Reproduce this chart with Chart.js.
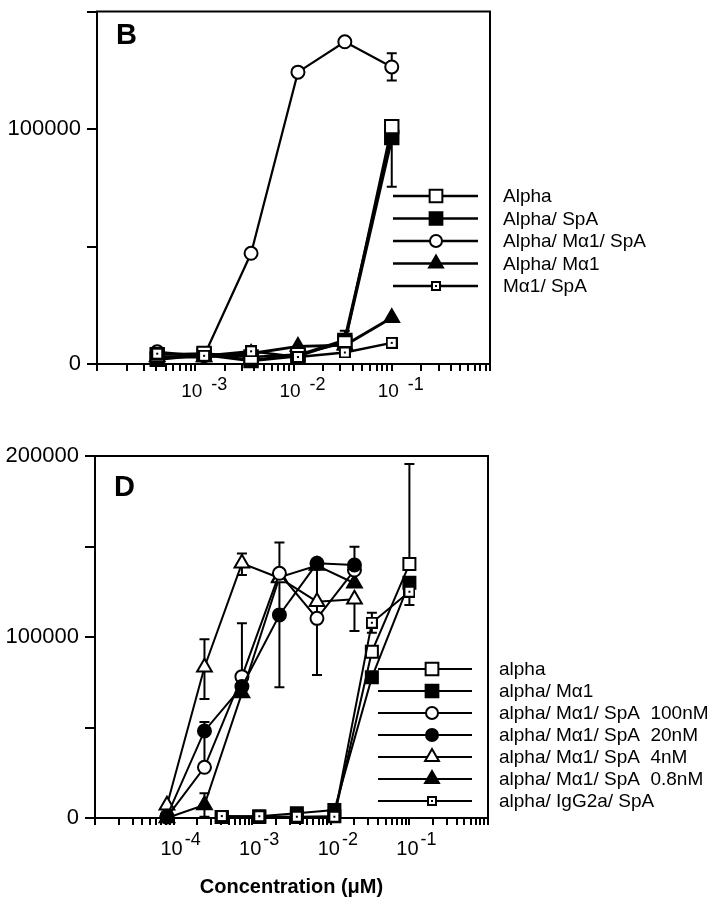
<!DOCTYPE html>
<html><head><meta charset="utf-8">
<script src="https://cdn.jsdelivr.net/npm/chart.js@4.4.1/dist/chart.umd.min.js"></script>
<style>
html,body{margin:0;padding:0;background:#fff;}
#wrap{position:relative;width:716px;height:899px;overflow:hidden;background:#fff;}
#cB{position:absolute;left:0;top:0;width:716px;height:440px;}
#cD{position:absolute;left:0;top:440px;width:716px;height:459px;}
</style></head><body>
<div id="wrap"><canvas id="cB" width="716" height="440"></canvas><canvas id="cD" width="716" height="459"></canvas></div>
<script>
// ---------- DATA ----------
// Panel B
const concB = [0.00041, 0.00123, 0.0037, 0.0111, 0.0333, 0.1];
const bLabels = ['Alpha', 'Alpha/ SpA', 'Alpha/ Mα1/ SpA', 'Alpha/ Mα1', 'Mα1/ SpA'];
const bAlpha      = [4000, 4500, 3000, 4000, 9000, 101000];
const bAlphaSpA   = [2000, 4000, 1500, 3500, 10000, 96400];
const bAlphaSpAErrUp   = [0, 0, 0, 0, 4200, 0];
const bAlphaSpAErrDown = [0, 0, 0, 0, 0, 21000];
const bAlphaMa1SpA = [5200, 3500, 47100, 124200, 137100, 126400];
const bAlphaMa1SpAErr = [0, 0, 0, 0, 0, 5800];
const bAlphaMa1   = [3000, 3000, 4500, 7500, 8000, 19700];
const bMa1SpA     = [4400, 3500, 5400, 3000, 4900, 9000];
const bYTickLabels = [0, 100000];
const bXTickExps = [-3, -2, -1];

// Panel D
const concD    = [0.00041, 0.00123, 0.0037, 0.0111, 0.0333, 0.1];
const concDSpA = [0.0000823, 0.000247, 0.00074, 0.00222, 0.00667, 0.02];
const dLabels = ['alpha', 'alpha/ Mα1', 'alpha/ Mα1/ SpA  100nM', 'alpha/ Mα1/ SpA  20nM',
                 'alpha/ Mα1/ SpA  4nM', 'alpha/ Mα1/ SpA  0.8nM', 'alpha/ IgG2a/ SpA'];
const dAlpha      = [500, 500, 500, 1000, 91900, 140300];
const dAlphaErrUp = [0, 0, 0, 0, 0, 55300];
const dAlphaMa1   = [500, 1000, 2600, 4400, 77700, 130000];
const d100        = [500, 28000, 78100, 135200, 110300, 137000];
const d100ErrUp   = [0, 20000, 29500, 0, 31300, 0];
const d100ErrDown = [0, 0, 0, 0, 31300, 0];
const d20         = [1000, 48100, 72600, 112200, 140700, 139800];
const d20ErrUp    = [0, 5000, 0, 40000, 0, 10000];
const d20ErrDown  = [0, 0, 0, 40000, 0, 0];
const d4          = [7000, 83300, 140700, 132600, 119500, 120800];
const d4ErrUp     = [0, 15400, 5500, 0, 0, 0];
const d4ErrDown   = [0, 17600, 6500, 0, 0, 17500];
const d08         = [0, 7200, 69000, 133000, 139500, 129700];
const d08Err      = [0, 6500, 0, 0, 0, 0];
const dIgG        = [1100, 1000, 700, 700, 107900, 125000];
const dIgGErr     = [0, 0, 0, 0, 5500, 7300];
const dYTickLabels = [0, 100000, 200000];
const dXTickExps = [-4, -3, -2, -1];

// ---------- HELPERS ----------
const FONT = "'Liberation Sans', Arial, Helvetica, sans-serif";

function makeDotSquare(size, bw) {
  const c = document.createElement('canvas');
  c.width = size; c.height = size;
  const g = c.getContext('2d');
  g.fillStyle = '#000'; g.fillRect(0, 0, size, size);
  g.fillStyle = '#fff'; g.fillRect(bw, bw, size - 2 * bw, size - 2 * bw);
  const d = 2;
  g.fillStyle = '#000'; g.fillRect((size - d) / 2, (size - d) / 2, d, d);
  return c;
}
const dotSqB = makeDotSquare(12, 2);
const dotSqD = makeDotSquare(12, 2);
const dotSqLeg = makeDotSquare(10, 2);

function decadeTicks(min, max) {
  const out = [];
  const e0 = Math.round(Math.log10(min)), e1 = Math.round(Math.log10(max));
  for (let e = e0; e < e1; e++) {
    for (let m = 1; m <= 9; m++) out.push(+(m * Math.pow(10, e)).toPrecision(6));
  }
  out.push(max);
  return out;
}

function series(label, xs, ys, mk, extra) {
  return Object.assign({
    label,
    data: xs.map((x, i) => ({x, y: ys[i]})),
    showLine: true,
    borderColor: '#000',
    backgroundColor: mk.fill,
    borderWidth: 2,
    pointStyle: mk.ps,
    pointRadius: mk.r,
    pointHoverRadius: mk.r,
    pointBackgroundColor: mk.fill,
    pointBorderColor: '#000',
    pointBorderWidth: 2,
    clip: false,
    tension: 0,
    legendMarker: mk.leg
  }, extra || {});
}

function drawMarker(ctx, mk, x, y) {
  ctx.save();
  if (mk.img) {
    ctx.drawImage(mk.img, Math.round(x - mk.img.width / 2), Math.round(y - mk.img.height / 2));
    ctx.restore();
    return;
  }
  ctx.fillStyle = mk.fill; ctx.strokeStyle = '#000'; ctx.lineWidth = 2;
  ctx.beginPath();
  const r = mk.r;
  if (mk.ps === 'circle') {
    ctx.arc(x, y, r, 0, Math.PI * 2);
  } else if (mk.ps === 'rect') {
    const s = r * Math.SQRT1_2;
    ctx.rect(x - s, y - s, 2 * s, 2 * s);
  } else if (mk.ps === 'triangle') {
    for (let k = 0; k < 3; k++) {
      const a = k * 2 * Math.PI / 3;
      const px = x + Math.sin(a) * r, py = y - Math.cos(a) * r;
      if (k === 0) ctx.moveTo(px, py); else ctx.lineTo(px, py);
    }
    ctx.closePath();
  }
  ctx.fill(); ctx.stroke();
  ctx.restore();
}

const panelPlugin = {
  id: 'panel',
  beforeDatasetsDraw(chart, args, o) {
    const ctx = chart.ctx;
    const {left, top, right, bottom} = chart.chartArea;
    ctx.save();
    ctx.strokeStyle = '#000'; ctx.lineWidth = 2;
    ctx.strokeRect(left, top, right - left, bottom - top);
    const xs = chart.scales.x, ys = chart.scales.y;
    ctx.lineWidth = o.errWidth;
    chart.data.datasets.forEach(d => {
      if (!d.errUp && !d.errDown) return;
      d.data.forEach((p, i) => {
        const up = d.errUp ? d.errUp[i] : 0, dn = d.errDown ? d.errDown[i] : 0;
        if (!up && !dn) return;
        const px = xs.getPixelForValue(p.x);
        const y0 = ys.getPixelForValue(p.y + up), y1 = ys.getPixelForValue(p.y - dn);
        ctx.beginPath();
        ctx.moveTo(px, y0); ctx.lineTo(px, y1);
        if (up) { ctx.moveTo(px - o.cap, y0); ctx.lineTo(px + o.cap, y0); }
        if (dn) { ctx.moveTo(px - o.cap, y1); ctx.lineTo(px + o.cap, y1); }
        ctx.stroke();
      });
    });
    ctx.restore();
  },
  afterDraw(chart, args, o) {
    const ctx = chart.ctx;
    const xs = chart.scales.x;
    ctx.save();
    ctx.fillStyle = '#000';
    ctx.textBaseline = 'middle';
    ctx.textAlign = 'left';
    // x tick labels 10^n
    o.xExps.forEach(e => {
      const px = xs.getPixelForValue(Math.pow(10, e)) + o.lblShift;
      ctx.font = o.baseSize + 'px ' + FONT;
      const w1 = ctx.measureText('10').width;
      const ex = '-' + Math.abs(e);
      ctx.font = o.expSize + 'px ' + FONT;
      const w2 = ctx.measureText(ex).width;
      const x0 = px - (w1 + o.gap + w2) / 2;
      ctx.font = o.baseSize + 'px ' + FONT;
      ctx.fillText('10', x0, o.baseY);
      ctx.font = o.expSize + 'px ' + FONT;
      ctx.fillText(ex, x0 + w1 + o.gap, o.expY);
    });
    // panel letter
    ctx.font = 'bold ' + o.letterSize + 'px ' + FONT;
    ctx.fillText(o.letter, o.letterX, o.letterY);
    // legend
    const L = o.legend;
    chart.data.datasets.forEach((d, i) => {
      const y = L.y + i * L.gap;
      ctx.strokeStyle = '#000'; ctx.lineWidth = L.lw;
      ctx.beginPath(); ctx.moveTo(L.x1, y); ctx.lineTo(L.x2, y); ctx.stroke();
      drawMarker(ctx, d.legendMarker, L.mx, y);
      ctx.fillStyle = '#000';
      ctx.font = L.size + 'px ' + FONT;
      ctx.textBaseline = 'middle';
      ctx.fillText(d.label, L.tx, y + 1);
    });
    ctx.restore();
  }
};

function makeChart(canvas, cfg) {
  const H = canvas.height;
  return new Chart(canvas, {
    type: 'scatter',
    data: {datasets: cfg.datasets},
    options: {
      responsive: false,
      animation: false,
      events: [],
      layout: {padding: {left: 0, top: cfg.top, right: 716 - cfg.right, bottom: 0}},
      plugins: {
        legend: {display: false},
        tooltip: {enabled: false},
        panel: cfg.panel
      },
      scales: {
        x: {
          type: 'logarithmic',
          min: cfg.xMin, max: cfg.xMax,
          afterBuildTicks: s => { s.ticks = decadeTicks(cfg.xMin, cfg.xMax).map(v => ({value: v})); },
          afterFit: s => { s.height = H - cfg.bottom; s.paddingLeft = 0; s.paddingRight = 0; s.paddingTop = 0; s.paddingBottom = 0; },
          ticks: {display: false, autoSkip: false},
          grid: {display: true, drawOnChartArea: false, drawTicks: true, tickLength: 7, color: '#000', lineWidth: 2},
          border: {display: true, color: '#000', width: 2},
          title: cfg.xTitle ? {display: true, text: cfg.xTitle, color: '#000', padding: {top: 0, bottom: 0},
                   font: {family: FONT, size: 20, weight: 'bold'}} : {display: false}
        },
        y: {
          type: 'linear',
          min: 0, max: cfg.yMax,
          afterFit: s => { s.width = cfg.left; s.paddingTop = 0; s.paddingBottom = 0; s.paddingLeft = 0; s.paddingRight = 0; },
          ticks: {
            stepSize: 50000,
            autoSkip: false,
            color: '#000',
            padding: 6,
            font: {family: FONT, size: 22},
            callback: v => cfg.yLabels.includes(v) ? String(v) : ''
          },
          grid: {display: true, drawOnChartArea: false, drawTicks: true, tickLength: 10, color: '#000', lineWidth: 2},
          border: {display: true, color: '#000', width: 2}
        }
      }
    },
    plugins: [panelPlugin]
  });
}

// ---------- MARKERS ----------
const mOpenSqB   = {ps: 'rect', r: 9.5, fill: '#fff', leg: {ps: 'rect', r: 9, fill: '#fff'}};
const mFillSqB   = {ps: 'rect', r: 9.5, fill: '#000', leg: {ps: 'rect', r: 9, fill: '#000'}};
const mOpenCirB  = {ps: 'circle', r: 6.5, fill: '#fff', leg: {ps: 'circle', r: 6, fill: '#fff'}};
const mFillTriB  = {ps: 'triangle', r: 8.5, fill: '#000', leg: {ps: 'triangle', r: 8, fill: '#000'}};
const mDotSqB    = {ps: dotSqB, r: 6, fill: '#fff', leg: {img: dotSqLeg}};

const mOpenSqD   = {ps: 'rect', r: 8.5, fill: '#fff', leg: {ps: 'rect', r: 9, fill: '#fff'}};
const mFillSqD   = {ps: 'rect', r: 8.5, fill: '#000', leg: {ps: 'rect', r: 9, fill: '#000'}};
const mOpenCirD  = {ps: 'circle', r: 6.5, fill: '#fff', leg: {ps: 'circle', r: 6, fill: '#fff'}};
const mFillCirD  = {ps: 'circle', r: 6.5, fill: '#000', leg: {ps: 'circle', r: 6, fill: '#000'}};
const mOpenTriD  = {ps: 'triangle', r: 8.5, fill: '#fff', leg: {ps: 'triangle', r: 8, fill: '#fff'}};
const mFillTriD  = {ps: 'triangle', r: 8.5, fill: '#000', leg: {ps: 'triangle', r: 8, fill: '#000'}};
const mDotSqD    = {ps: dotSqD, r: 6, fill: '#fff', leg: {img: dotSqLeg}};

// ---------- CHART B ----------
makeChart(document.getElementById('cB'), {
  left: 97, right: 490, top: 4, bottom: 364,
  xMin: 1e-4, xMax: 1, yMax: 150000, yLabels: bYTickLabels,
  datasets: [
    series(bLabels[0], concB, bAlpha, mOpenSqB, {borderWidth: 2.5, order: 1}),
    series(bLabels[1], concB, bAlphaSpA, mFillSqB, {borderWidth: 3.5, order: 2, errUp: bAlphaSpAErrUp, errDown: bAlphaSpAErrDown}),
    series(bLabels[2], concB, bAlphaMa1SpA, mOpenCirB, {borderWidth: 2.2, order: 3, errUp: bAlphaMa1SpAErr, errDown: bAlphaMa1SpAErr}),
    series(bLabels[3], concB, bAlphaMa1, mFillTriB, {borderWidth: 3, order: 4}),
    series(bLabels[4], concB, bMa1SpA, mDotSqB, {borderWidth: 2.5, order: 0})
  ],
  panel: {
    xExps: bXTickExps, lblShift: 9, baseSize: 19, expSize: 18, gap: 9, baseY: 392, expY: 385,
    letter: 'B', letterSize: 29, letterX: 116, letterY: 36,
    errWidth: 2, cap: 5,
    legend: {x1: 393, x2: 478, mx: 436, tx: 503, y: 196, gap: 22.5, lw: 2.5, size: 19}
  }
});

// ---------- CHART D ----------
makeChart(document.getElementById('cD'), {
  left: 95, right: 488, top: 16, bottom: 378,
  xMin: 1e-5, xMax: 1, yMax: 200000, yLabels: dYTickLabels,
  xTitle: 'Concentration (μM)',
  datasets: [
    series(dLabels[0], concD, dAlpha, mOpenSqD, {order: 1, errUp: dAlphaErrUp}),
    series(dLabels[1], concD, dAlphaMa1, mFillSqD, {order: 2}),
    series(dLabels[2], concDSpA, d100, mOpenCirD, {order: 4, errUp: d100ErrUp, errDown: d100ErrDown}),
    series(dLabels[3], concDSpA, d20, mFillCirD, {order: 3, errUp: d20ErrUp, errDown: d20ErrDown}),
    series(dLabels[4], concDSpA, d4, mOpenTriD, {order: 5, errUp: d4ErrUp, errDown: d4ErrDown}),
    series(dLabels[5], concDSpA, d08, mFillTriD, {order: 6, errUp: d08Err, errDown: d08Err}),
    series(dLabels[6], concD, dIgG, mDotSqD, {order: 0, errUp: dIgGErr, errDown: dIgGErr})
  ],
  panel: {
    xExps: dXTickExps, lblShift: 7, baseSize: 20, expSize: 18, gap: 2, baseY: 409, expY: 400,
    letter: 'D', letterSize: 29, letterX: 114, letterY: 48,
    errWidth: 2, cap: 5,
    legend: {x1: 378, x2: 472, mx: 432, tx: 499, y: 229, gap: 22, lw: 2, size: 19}
  }
});
</script>
</body></html>
